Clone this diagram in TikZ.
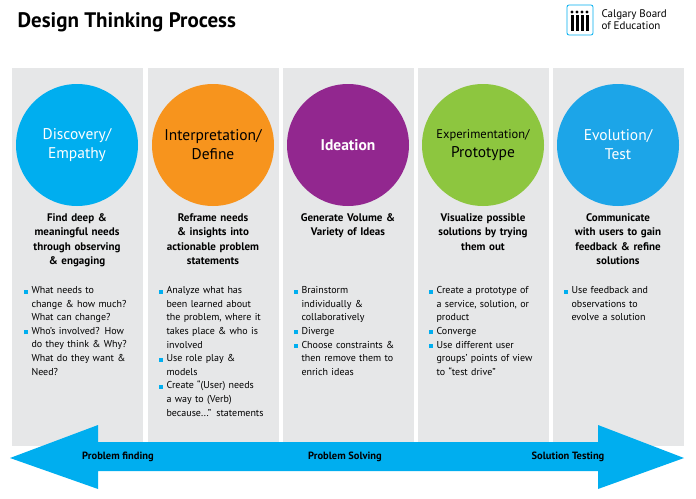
\documentclass[tikz,border=0pt]{standalone}
\usepackage{fontspec}
\setmainfont{PT Sans}
\begin{document}
\begin{tikzpicture}[x=1pt,y=-1pt,
 panel/.style={fill=panelgray,draw=none},
 circ/.style={circle,minimum size=122pt,inner sep=0pt,text=white,font=\fontsize{15.5}{19}\selectfont,align=center},
 head/.style={font=\bfseries\fontsize{11}{14.5}\selectfont,align=center,text width=128pt,anchor=north},
 bul/.style={font=\fontsize{10}{13.6}\selectfont,align=left,text width=118pt,anchor=north west},
 lab/.style={font=\bfseries\fontsize{10.5}{12}\selectfont}]
\definecolor{panelgray}{HTML}{E6E7E8}
\definecolor{cyanA}{HTML}{00AEEF}
\definecolor{orangeA}{HTML}{F7941D}
\definecolor{purpleA}{HTML}{92278F}
\definecolor{greenA}{HTML}{8DC63F}
\definecolor{blueA}{HTML}{1CA5E8}
\definecolor{arrowc}{HTML}{00AEEF}
\newcommand{\bx}{\textcolor{cyanA}{\rule{4pt}{4pt}}\hspace{4pt}}
\useasboundingbox (0,0) rectangle (696,498);
\node[anchor=west,font=\bfseries\fontsize{21}{24}\selectfont] (title) at (14,22) {Design Thinking Process};
\node[draw=cyanA,line width=0.8pt,rounded corners=2pt,minimum width=26pt,minimum height=30pt] (logo) at (580,20) {};
\foreach \i in {0,1,2,3}{\fill (572+\i*5,12) circle (1.6pt); \fill (571+\i*5,15) rectangle (573.5+\i*5,31);}
\node[anchor=west,font=\fontsize{11}{12}\selectfont,align=left] (cbe) at (598,20) {Calgary Board\\of Education};
\foreach \x in {12,148,283,418,553}{\fill[panelgray] (\x,68) rectangle ++(131,378);}
\node[circ,fill=cyanA] (c1) at (77,145) {Discovery/\\Empathy};
\node[circ,fill=orangeA,text=black] (c2) at (213,145) {Interpretation/\\Define};
\node[circ,fill=purpleA] (c3) at (348,145) {\bfseries Ideation};
\node[circ,fill=greenA,text=black] (c4) at (483,145) {\fontsize{12.5}{19}\selectfont Experimentation/\\\fontsize{15.5}{19}\selectfont Prototype};
\node[circ,fill=blueA] (c5) at (618,145) {Evolution/\\Test};
\node[head] (h1) at (77,210) {Find deep \&\\meaningful needs\\through observing\\\& engaging};
\node[head] (h2) at (213,210) {Reframe needs\\\& insights into\\actionable problem\\statements};
\node[head] (h3) at (348,210) {Generate Volume \&\\Variety of Ideas};
\node[head] (h4) at (483,210) {Visualize possible\\solutions by trying\\them out};
\node[head] (h5) at (618,210) {Communicate\\with users to gain\\feedback \& refine\\solutions};
\node[bul] (b1) at (20,283) {\bx What needs to\\\hspace*{8pt}change \& how much?\\\hspace*{8pt}What can change?\\\bx Who’s involved? How\\\hspace*{8pt}do they think \& Why?\\\hspace*{8pt}What do they want \&\\\hspace*{8pt}Need?};
\node[bul] (b2) at (155,283) {\bx Analyze what has\\\hspace*{8pt}been learned about\\\hspace*{8pt}the problem, where it\\\hspace*{8pt}takes place \& who is\\\hspace*{8pt}involved\\\bx Use role play \&\\\hspace*{8pt}models\\\bx Create “(User) needs\\\hspace*{8pt}a way to (Verb)\\\hspace*{8pt}because...” statements};
\node[bul] (b3) at (290,283) {\bx Brainstorm\\\hspace*{8pt}individually \&\\\hspace*{8pt}collaboratively\\\bx Diverge\\\bx Choose constraints \&\\\hspace*{8pt}then remove them to\\\hspace*{8pt}enrich ideas};
\node[bul] (b4) at (425,283) {\bx Create a prototype of\\\hspace*{8pt}a service, solution, or\\\hspace*{8pt}product\\\bx Converge\\\bx Use different user\\\hspace*{8pt}groups’ points of view\\\hspace*{8pt}to “test drive”};
\node[bul] (b5) at (560,283) {\bx Use feedback and\\\hspace*{8pt}observations to\\\hspace*{8pt}evolve a solution};
\fill[arrowc] (10,458) -- (98,425) -- (98,442) -- (598,442) -- (598,425) -- (684,458) -- (598,489) -- (598,471) -- (98,471) -- (98,489) -- cycle;
\node[lab] (l1) at (118,457) {Problem finding};
\node[lab] (l2) at (345,457) {Problem Solving};
\node[lab] (l3) at (568,457) {Solution Testing};
\end{tikzpicture}
\end{document}
